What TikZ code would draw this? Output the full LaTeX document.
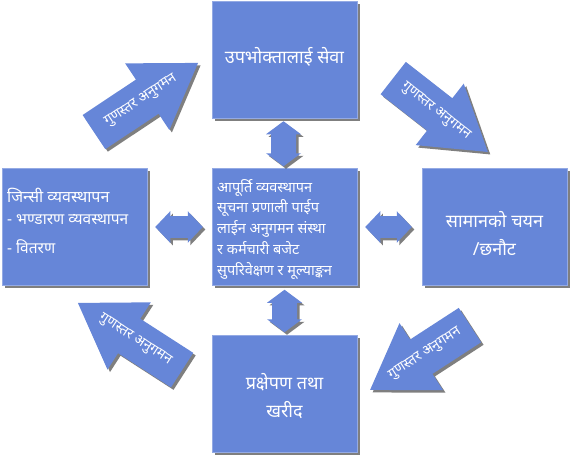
\documentclass[tikz,border=0pt]{standalone}
\usepackage{fontspec}
\newfontfamily\deva[Script=Devanagari]{Noto Sans}
\usetikzlibrary{shadows,calc}
\definecolor{boxblue}{HTML}{6686D8}
\tikzset{
  shd/.style={drop shadow={shadow xshift=2.5pt, shadow yshift=-2.5pt, fill=black, opacity=0.5}},
  box/.style={fill=boxblue, draw=boxblue!70!white, line width=0.5pt, minimum width=145pt, minimum height=117pt, inner sep=0pt, shd},
  shapefill/.style={fill=boxblue, shd},
  bigtxt/.style={text=white, font=\deva\fontsize{18}{27.5}\selectfont, inner sep=0pt, align=center},
  smalltxt/.style={text=white, font=\deva\fontsize{14.5}{20.75}\selectfont, inner sep=0pt, align=left},
  arrtxt/.style={text=white, font=\deva\fontsize{14}{16}\selectfont, inner sep=0pt}
}
\newcommand\blockarrow[6]{% name, center, angle, length, text angle, head half width
  \begin{scope}[shift={#2}, rotate=#3]
    \path[shapefill] ({-0.5*#4},-20.5) -- ({0.5*#4-61},-20.5) -- ({0.5*#4-61},-#6) -- ({0.5*#4},0)
      -- ({0.5*#4-61},#6) -- ({0.5*#4-61},20.5) -- ({-0.5*#4},20.5) -- cycle;
    \node[arrtxt, rotate=#5] (#1) at (-6,0) {गुणस्तर अनुगमन};
  \end{scope}}
\newcommand\hdbl[2]{% horizontal double arrow between coordinates
  \path[shapefill] (#1) -- ($(#1)+(15,-15.8)$) -- ($(#1)+(15,-10.8)$) -- ($(#2)+(-15,-10.8)$) -- ($(#2)+(-15,-15.8)$)
    -- (#2) -- ($(#2)+(-15,15.8)$) -- ($(#2)+(-15,10.8)$) -- ($(#1)+(15,10.8)$) -- ($(#1)+(15,15.8)$) -- cycle;}
\newcommand\vdbl[2]{% vertical double arrow between coordinates
  \path[shapefill] (#1) -- ($(#1)+(-17.5,13)$) -- ($(#1)+(-12.5,13)$) -- ($(#2)+(-12.5,-13)$) -- ($(#2)+(-17.5,-13)$)
    -- (#2) -- ($(#2)+(17.5,-13)$) -- ($(#2)+(12.5,-13)$) -- ($(#1)+(12.5,13)$) -- ($(#1)+(17.5,13)$) -- cycle;}
\begin{document}
\begin{tikzpicture}[x=1pt,y=-1pt]
\useasboundingbox (0,0) rectangle (573,459);

% boxes
\node[box] (top) at (284.5,59.5) {};
\node[box] (center) at (284.5,227) {};
\node[box] (left) at (74.5,227) {};
\node[box] (right) at (494.5,227) {};
\node[box] (bottom) at (284.5,394) {};

% texts
\node[bigtxt] (ttop) at (284.5,57) {उपभोक्तालाई सेवा};
\node[smalltxt, anchor=west] (tcenter) at (217,229) {आपूर्ति व्यवस्थापन\\सूचना प्रणाली पाईप\\लाईन अनुगमन संस्था\\र कर्मचारी बजेट\\सुपरिवेक्षण र मूल्याङ्कन};
\node[bigtxt, anchor=west, font=\deva\fontsize{16}{20}\selectfont] (tleft1) at (7,195) {जिन्सी व्यवस्थापन};
\node[smalltxt, anchor=west, font=\deva\fontsize{15.5}{20}\selectfont] (tleft2) at (7,220) {- भण्डारण व्यवस्थापन};
\node[smalltxt, anchor=west, font=\deva\fontsize{15.5}{20}\selectfont] (tleft3) at (7,247) {- वितरण};
\node[bigtxt] (tright) at (494.5,233.5) {सामानको चयन\\/छनौट};
\node[bigtxt] (tbottom) at (284.5,396) {प्रक्षेपण तथा\\खरीद};

% double arrows
\coordinate (la) at ($(left.east)+(8,0)$);
\coordinate (lb) at ($(center.west)+(-9,0)$);
\hdbl{la}{lb}
\coordinate (ra) at ($(center.east)+(8,0)$);
\coordinate (rb) at ($(right.west)+(-10,0)$);
\hdbl{ra}{rb}
\coordinate (ta) at ($(top.south)+(-1,3)$);
\coordinate (tb) at ($(center.north)+(-1,-2)$);
\vdbl{ta}{tb}
\coordinate (ba) at ($(center.south)+(0,4)$);
\coordinate (bb) at ($(bottom.north)+(0,-3)$);
\vdbl{ba}{bb}

% big quality-monitoring arrows
\blockarrow{q1}{(146,97.5)}{33.6}{125}{33.6}{40}
\blockarrow{q2}{(440.5,115)}{-38}{120}{-38}{39}
\blockarrow{q3}{(130,336.5)}{147.2}{124}{-32.8}{40}
\blockarrow{q4}{(420,357.5)}{213}{119}{33}{40}
\end{tikzpicture}
\end{document}
